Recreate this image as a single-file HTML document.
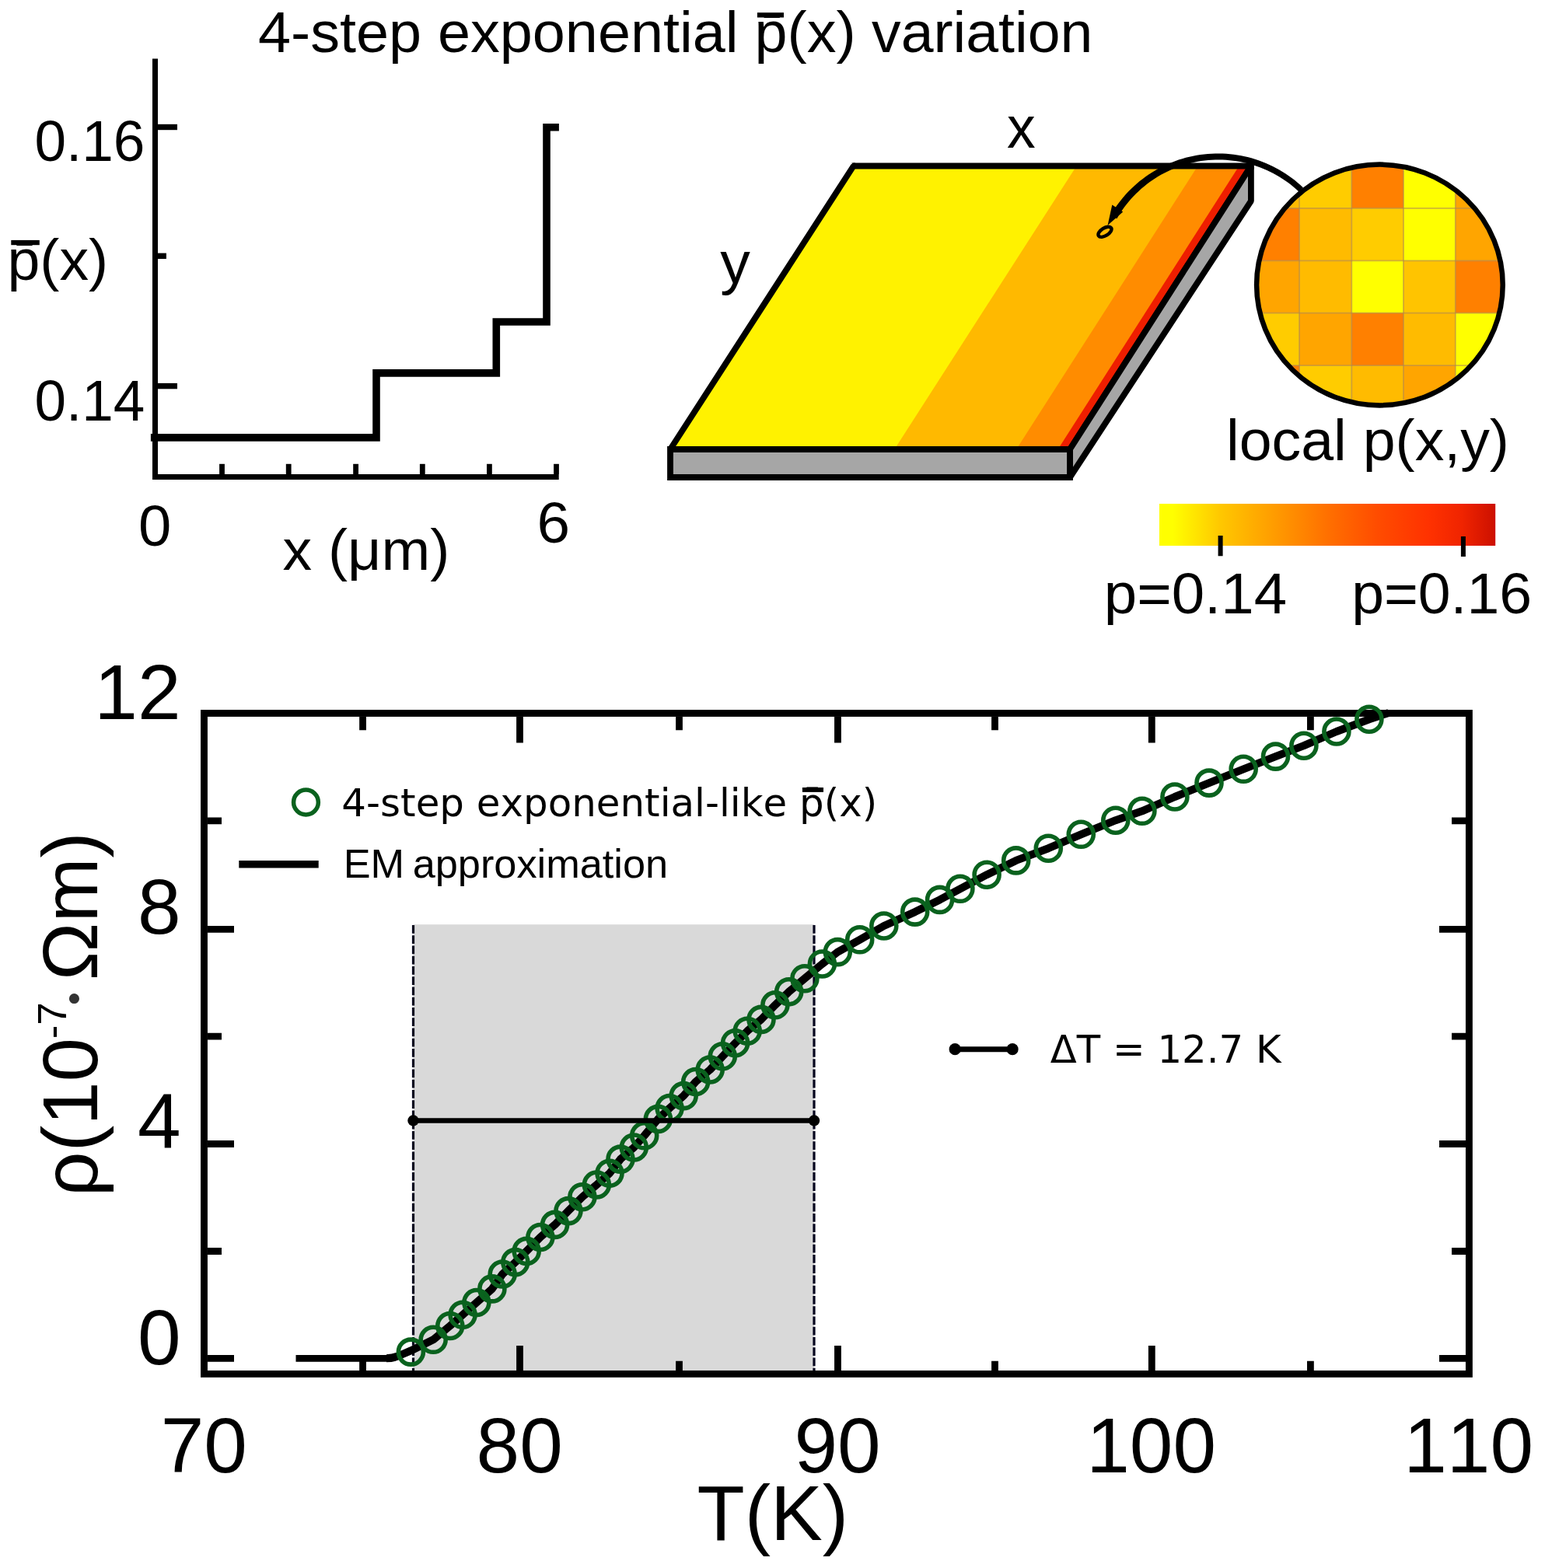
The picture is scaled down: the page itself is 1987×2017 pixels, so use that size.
<!DOCTYPE html><html><head><meta charset="utf-8"><title>4-step exponential p(x) variation</title><style>html,body{margin:0;padding:0;background:#fff;overflow:hidden}svg{display:block}text{font-kerning:none;font-variant-ligatures:none}</style></head><body>
<svg xmlns="http://www.w3.org/2000/svg" width="1987" height="2017" viewBox="0 0 1987 2017">
<rect x="0" y="0" width="1987" height="2017" fill="#fff"/>
<text x="331.97" y="66.80" font-family="'Liberation Sans', Arial, sans-serif" font-size="75" textLength="768.72" lengthAdjust="spacingAndGlyphs" fill="#000" >4-step exponential p̄(x)</text>
<text x="1121.04" y="66.80" font-family="'Liberation Sans', Arial, sans-serif" font-size="75" textLength="284.24" lengthAdjust="spacingAndGlyphs" fill="#000" >variation</text>
<rect x="973.9" y="16.2" width="34.1" height="6.3" fill="#000"/>
<g fill="none" stroke="#000" stroke-linecap="butt" stroke-linejoin="miter">
<path d="M199.5 75.6 V617" stroke-width="7"/>
<path d="M196 613.5 H718.7" stroke-width="7"/>
<path d="M203 163.5 H228" stroke-width="7.4"/>
<path d="M203 496.6 H228" stroke-width="7.4"/>
<path d="M203 329.3 H213.9" stroke-width="7.4"/>
<path d="M285.5 596.8 V610" stroke-width="6.8"/>
<path d="M371.2 596.8 V610" stroke-width="6.8"/>
<path d="M457.6 596.8 V610" stroke-width="6.8"/>
<path d="M543.3 596.8 V610" stroke-width="6.8"/>
<path d="M629.4 596.8 V610" stroke-width="6.8"/>
<path d="M715.5 596.8 V610" stroke-width="6.8"/>
<path d="M193.9 562.9 H484 V479.9 H638.3 V414 H703 V163.8 H718.9" stroke-width="9.6"/>
</g>
<text x="44.45" y="206.90" font-family="'Liberation Sans', Arial, sans-serif" font-size="75" textLength="141.95" lengthAdjust="spacingAndGlyphs" fill="#000" >0.16</text>
<text x="44.45" y="541.30" font-family="'Liberation Sans', Arial, sans-serif" font-size="75" textLength="141.88" lengthAdjust="spacingAndGlyphs" fill="#000" >0.14</text>
<text x="9.44" y="359.70" font-family="'Liberation Sans', Arial, sans-serif" font-size="74.4" textLength="129.73" lengthAdjust="spacingAndGlyphs" fill="#000" >p̄(x)</text>
<rect x="14.3" y="308.9" width="36.5" height="6.3" fill="#000"/>
<text x="178.03" y="701.80" font-family="'Liberation Sans', Arial, sans-serif" font-size="75" textLength="42.35" lengthAdjust="spacingAndGlyphs" fill="#000" >0</text>
<text x="690.62" y="697.60" font-family="'Liberation Sans', Arial, sans-serif" font-size="75" textLength="42.55" lengthAdjust="spacingAndGlyphs" fill="#000" >6</text>
<text x="363.45" y="733.00" font-family="'Liberation Sans', Arial, sans-serif" font-size="75" textLength="214.92" lengthAdjust="spacingAndGlyphs" fill="#000" >x (μm)</text>
<polygon points="1097.70,213.5 1608.90,213.5 1376.00,578.0 862.00,578" fill="#FFF200"/>
<polygon points="1384.48,213.5 1608.90,213.5 1376.00,578.0 1150.35,578.0" fill="#FFB900"/>
<polygon points="1540.40,213.5 1608.90,213.5 1376.00,578.0 1307.12,578.0" fill="#FF8C00"/>
<polygon points="1593.56,213.5 1608.90,213.5 1376.00,578.0 1360.58,578.0" fill="#EE1E00"/>
<g stroke="#000" stroke-width="7.8">
<polygon points="1097.7,213.5 1608.9,213.5 1376,578 862,578" fill="none" stroke-linejoin="bevel"/>
<polygon points="1376,578 1608.9,213.5 1608.9,258.6 1376,614" fill="#A6A6A6" stroke-linejoin="bevel"/>
<polygon points="862,578 1376,578 1376,614 862,614" fill="#A6A6A6" stroke-linejoin="miter"/>
</g>
<rect x="1605" y="209.6" width="7.8" height="8" fill="#000"/>
<path d="M1097.7 213.5 L1095.3 209.6 L1100 209.6 Z" fill="#000"/>
<path d="M1675.93 241.27 L1672.42 238.02 L1668.81 234.89 L1665.11 231.86 L1661.32 228.95 L1657.45 226.15 L1653.49 223.46 L1649.45 220.90 L1645.34 218.46 L1641.15 216.15 L1636.90 213.96 L1632.58 211.91 L1628.20 209.98 L1623.77 208.19 L1619.28 206.52 L1614.75 205.00 L1610.17 203.61 L1605.55 202.36 L1600.89 201.25 L1596.21 200.29 L1591.50 199.46 L1586.76 198.77 L1582.00 198.23 L1577.23 197.83 L1572.46 197.58 L1567.67 197.47 L1562.88 197.49 L1558.10 197.66 L1553.32 197.97 L1548.56 198.43 L1543.80 199.02 L1539.07 199.77 L1534.37 200.65 L1529.69 201.67 L1525.04 202.84 L1520.43 204.14 L1515.86 205.59 L1511.34 207.17 L1506.86 208.88 L1502.44 210.74 L1498.07 212.72 L1493.77 214.83 L1489.53 217.07 L1485.36 219.44 L1481.27 221.94 L1477.25 224.55 L1473.31 227.29 L1469.45 230.14 L1465.68 233.11 L1462.00 236.19 L1458.42 239.39 L1454.93 242.68 L1451.54 246.09 L1448.26 249.59 L1445.08 253.19 L1442.02 256.88 L1439.06 260.67 L1436.22 264.54 L1433.50 268.50 L1430.90 272.54 L1428.42 276.65 L1436.39 281.25 L1438.70 277.36 L1441.12 273.53 L1443.66 269.78 L1446.31 266.11 L1449.07 262.52 L1451.94 259.01 L1454.91 255.59 L1457.98 252.26 L1461.16 249.03 L1464.43 245.89 L1467.79 242.85 L1471.24 239.91 L1474.79 237.08 L1478.41 234.36 L1482.12 231.74 L1485.90 229.24 L1489.76 226.85 L1493.68 224.58 L1497.68 222.43 L1501.74 220.40 L1505.85 218.49 L1510.03 216.71 L1514.25 215.05 L1518.53 213.52 L1522.85 212.12 L1527.21 210.85 L1531.61 209.72 L1536.03 208.71 L1540.49 207.84 L1544.98 207.10 L1549.48 206.50 L1554.00 206.04 L1558.53 205.71 L1563.07 205.52 L1567.62 205.46 L1572.16 205.55 L1576.70 205.78 L1581.24 206.14 L1585.75 206.64 L1590.26 207.28 L1594.74 208.05 L1599.19 208.95 L1603.62 209.99 L1608.02 211.17 L1612.37 212.47 L1616.69 213.91 L1620.96 215.47 L1625.18 217.16 L1629.35 218.98 L1633.46 220.92 L1637.52 222.99 L1641.51 225.18 L1645.43 227.48 L1649.28 229.91 L1653.06 232.45 L1656.75 235.10 L1660.37 237.86 L1663.90 240.73 L1667.35 243.70 L1670.70 246.78 Z" fill="#000"/>
<polygon points="1430.3,263.5 1444.2,272.6 1424.6,289.8" fill="#000"/>
<ellipse cx="1421" cy="298.3" rx="9.6" ry="4.9" transform="rotate(-32 1421 298.3)" fill="none" stroke="#000" stroke-width="4.4"/>
<defs><clipPath id="mag"><ellipse cx="1774.4" cy="366.5" rx="158.3" ry="154.9"/></clipPath><linearGradient id="cb" x1="0" y1="0" x2="1" y2="0"><stop offset="0" stop-color="#FFFF00"/><stop offset="0.04" stop-color="#FFFF00"/><stop offset="0.18" stop-color="#FFC800"/><stop offset="0.33" stop-color="#FF9F00"/><stop offset="0.5" stop-color="#FF7000"/><stop offset="0.65" stop-color="#FF4C00"/><stop offset="0.8" stop-color="#FF3200"/><stop offset="0.9" stop-color="#F02400"/><stop offset="1" stop-color="#CC1000"/></linearGradient></defs>
<g clip-path="url(#mag)">
<rect x="1604.2" y="200.1" width="67.4" height="68.2" fill="#FFBB00"/>
<rect x="1671.1" y="200.1" width="67.7" height="68.2" fill="#FFCC00"/>
<rect x="1738.3" y="200.1" width="67.2" height="68.2" fill="#FF8000"/>
<rect x="1805.0" y="200.1" width="67.3" height="68.2" fill="#FFFF00"/>
<rect x="1871.8" y="200.1" width="67.5" height="68.2" fill="#FFA500"/>
<rect x="1604.2" y="267.8" width="67.4" height="68.0" fill="#FF8000"/>
<rect x="1671.1" y="267.8" width="67.7" height="68.0" fill="#FFBB00"/>
<rect x="1738.3" y="267.8" width="67.2" height="68.0" fill="#FFCC00"/>
<rect x="1805.0" y="267.8" width="67.3" height="68.0" fill="#FFFF00"/>
<rect x="1871.8" y="267.8" width="67.5" height="68.0" fill="#FFA500"/>
<rect x="1604.2" y="335.3" width="67.4" height="67.8" fill="#FFA500"/>
<rect x="1671.1" y="335.3" width="67.7" height="67.8" fill="#FFBB00"/>
<rect x="1738.3" y="335.3" width="67.2" height="67.8" fill="#FFFF00"/>
<rect x="1805.0" y="335.3" width="67.3" height="67.8" fill="#FFC400"/>
<rect x="1871.8" y="335.3" width="67.5" height="67.8" fill="#FF8000"/>
<rect x="1604.2" y="402.6" width="67.4" height="68.0" fill="#FFCC00"/>
<rect x="1671.1" y="402.6" width="67.7" height="68.0" fill="#FFA500"/>
<rect x="1738.3" y="402.6" width="67.2" height="68.0" fill="#FF8000"/>
<rect x="1805.0" y="402.6" width="67.3" height="68.0" fill="#FFBB00"/>
<rect x="1871.8" y="402.6" width="67.5" height="68.0" fill="#FFFF00"/>
<rect x="1604.2" y="470.1" width="67.4" height="68.0" fill="#FF8000"/>
<rect x="1671.1" y="470.1" width="67.7" height="68.0" fill="#FFCC00"/>
<rect x="1738.3" y="470.1" width="67.2" height="68.0" fill="#FFBB00"/>
<rect x="1805.0" y="470.1" width="67.3" height="68.0" fill="#FFA500"/>
<rect x="1871.8" y="470.1" width="67.5" height="68.0" fill="#FFFF00"/>
<path d="M1671.1 195 V540" stroke="#B08850" stroke-opacity="0.6" stroke-width="1.8"/>
<path d="M1738.3 195 V540" stroke="#B08850" stroke-opacity="0.6" stroke-width="1.8"/>
<path d="M1805.0 195 V540" stroke="#B08850" stroke-opacity="0.6" stroke-width="1.8"/>
<path d="M1871.8 195 V540" stroke="#B08850" stroke-opacity="0.6" stroke-width="1.8"/>
<path d="M1600 267.8 H1945" stroke="#B08850" stroke-opacity="0.6" stroke-width="1.8"/>
<path d="M1600 335.3 H1945" stroke="#B08850" stroke-opacity="0.6" stroke-width="1.8"/>
<path d="M1600 402.6 H1945" stroke="#B08850" stroke-opacity="0.6" stroke-width="1.8"/>
<path d="M1600 470.1 H1945" stroke="#B08850" stroke-opacity="0.6" stroke-width="1.8"/>
</g>
<ellipse cx="1774.4" cy="366.5" rx="158.3" ry="154.9" fill="none" stroke="#000" stroke-width="6.5"/>
<text x="1295.08" y="190.10" font-family="'Liberation Sans', Arial, sans-serif" font-size="76.5" textLength="36.71" lengthAdjust="spacingAndGlyphs" fill="#000" >x</text>
<text x="926.21" y="363.85" font-family="'Liberation Sans', Arial, sans-serif" font-size="76" textLength="38.54" lengthAdjust="spacingAndGlyphs" fill="#000" >y</text>
<text x="1576.93" y="591.90" font-family="'Liberation Sans', Arial, sans-serif" font-size="74" textLength="364.04" lengthAdjust="spacingAndGlyphs" fill="#000" >local p(x,y)</text>
<rect x="1491" y="648" width="432.2" height="54" fill="url(#cb)"/>
<path d="M1569.6 689 V715.3 M1881.9 690 V716" stroke="#000" stroke-width="6"/>
<text x="1419.79" y="788.80" font-family="'Liberation Sans', Arial, sans-serif" font-size="75" textLength="235.25" lengthAdjust="spacingAndGlyphs" fill="#000" >p=0.14</text>
<text x="1738.16" y="788.80" font-family="'Liberation Sans', Arial, sans-serif" font-size="75" textLength="231.84" lengthAdjust="spacingAndGlyphs" fill="#000" >p=0.16</text>
<rect x="531.5" y="1189.2" width="515.5" height="575" fill="#D9D9D9"/>
<path d="M531.5 1189.9 V1764 M1047 1189.9 V1764" stroke="#06061E" stroke-width="3.2" stroke-dasharray="10.9 2.35"/>
<g fill="none" stroke="#000" stroke-width="8.8">
<rect x="262.5" y="917.5" width="1626.9" height="849.9" stroke-width="8.9"/>
<path d="M267 1747.4 H301 M1885 1747.4 H1851"/>
<path d="M267 1471.5 H301 M1885 1471.5 H1851"/>
<path d="M267 1195.4 H301 M1885 1195.4 H1851"/>
<path d="M267 1609.5 H285 M1885 1609.5 H1867"/>
<path d="M267 1333.2 H285 M1885 1333.2 H1867"/>
<path d="M267 1055.8 H285 M1885 1055.8 H1867"/>
<path d="M668.50 1763 V1731 M668.50 922 V955.6"/>
<path d="M1077.45 1763 V1731 M1077.45 922 V955.6"/>
<path d="M1481.30 1763 V1731 M1481.30 922 V955.6"/>
<path d="M466.55 1763 V1750.7 M466.55 922 V939.3"/>
<path d="M873.50 1763 V1750.7 M873.50 922 V939.3"/>
<path d="M1279.50 1763 V1750.7 M1279.50 922 V939.3"/>
<path d="M1685.40 1763 V1750.7 M1685.40 922 V939.3"/>
</g>
<path d="M380.5 1747.4 H500" fill="none" stroke="#000" stroke-width="8.7"/>
<path d="M497 1747.3 C504 1747.3 507 1746.5 513 1744 L528.4 1737.4 L557.2 1723.3 L578.8 1705.5 L595.1 1691.3 L612.9 1675.5 L632.9 1657.9 L646.2 1639 L662.8 1623.6 L677.2 1609.4 L694.9 1591.5 L713.6 1575.4 L731 1557.6 L748.9 1539.7 L767.4 1524 L784 1509.2 L798 1491.1 L815.3 1476 L828.7 1460.8 L846.4 1439.4 L861.1 1425.5 L879.2 1409.6 L894.7 1391.5 L913.2 1376 L929.3 1358.8 L945.6 1341.7 L961.2 1326.2 L979 1311.4 L996.9 1292.8 L1014.7 1275.7 L1034.9 1258.7 L1057.4 1240 L1077.3 1224.6 L1105.7 1208.8 L1136.8 1191 L1176.7 1173.1 L1208.6 1157.4 L1234.9 1143.3 L1269.1 1125.2 L1306.7 1106.9 L1348.3 1091.2 L1390.3 1073.3 L1434.8 1055.2 L1468.9 1043.3 L1510.9 1025 L1555 1007.1 L1599.2 989.3 L1640.5 973.1 L1676.9 959.2 L1718.9 941 L1760.9 925.2 L1786 917" fill="none" stroke="#000" stroke-width="10" stroke-linejoin="round"/>
<g fill="none" stroke="#0A621E" stroke-width="5.6">
<circle cx="528.4" cy="1739.1" r="16"/>
<circle cx="557.2" cy="1723.3" r="16"/>
<circle cx="578.8" cy="1705.5" r="16"/>
<circle cx="595.1" cy="1691.3" r="16"/>
<circle cx="612.9" cy="1675.5" r="16"/>
<circle cx="632.9" cy="1657.9" r="16"/>
<circle cx="646.2" cy="1639" r="16"/>
<circle cx="662.8" cy="1623.6" r="16"/>
<circle cx="677.2" cy="1609.4" r="16"/>
<circle cx="694.9" cy="1591.5" r="16"/>
<circle cx="713.6" cy="1575.4" r="16"/>
<circle cx="731" cy="1557.6" r="16"/>
<circle cx="748.9" cy="1539.7" r="16"/>
<circle cx="767.4" cy="1524" r="16"/>
<circle cx="784" cy="1509.2" r="16"/>
<circle cx="798" cy="1491.1" r="16"/>
<circle cx="815.3" cy="1476" r="16"/>
<circle cx="828.7" cy="1460.8" r="16"/>
<circle cx="846.4" cy="1439.4" r="16"/>
<circle cx="861.1" cy="1425.5" r="16"/>
<circle cx="879.2" cy="1409.6" r="16"/>
<circle cx="894.7" cy="1391.5" r="16"/>
<circle cx="913.2" cy="1376" r="16"/>
<circle cx="929.3" cy="1358.8" r="16"/>
<circle cx="945.6" cy="1341.7" r="16"/>
<circle cx="961.2" cy="1326.2" r="16"/>
<circle cx="979" cy="1311.4" r="16"/>
<circle cx="996.9" cy="1292.8" r="16"/>
<circle cx="1014.7" cy="1275.7" r="16"/>
<circle cx="1034.9" cy="1258.7" r="16"/>
<circle cx="1057.4" cy="1240" r="16"/>
<circle cx="1077.3" cy="1224.6" r="16"/>
<circle cx="1105.7" cy="1208.8" r="16"/>
<circle cx="1136.8" cy="1191" r="16"/>
<circle cx="1176.7" cy="1173.1" r="16"/>
<circle cx="1208.6" cy="1157.4" r="16"/>
<circle cx="1234.9" cy="1143.3" r="16"/>
<circle cx="1269.1" cy="1125.2" r="16"/>
<circle cx="1306.7" cy="1106.9" r="16"/>
<circle cx="1348.3" cy="1091.2" r="16"/>
<circle cx="1390.3" cy="1073.3" r="16"/>
<circle cx="1434.8" cy="1055.2" r="16"/>
<circle cx="1468.9" cy="1043.3" r="16"/>
<circle cx="1510.9" cy="1025" r="16"/>
<circle cx="1555" cy="1007.1" r="16"/>
<circle cx="1599.2" cy="989.3" r="16"/>
<circle cx="1640.5" cy="973.1" r="16"/>
<circle cx="1676.9" cy="959.2" r="16"/>
<circle cx="1718.9" cy="941" r="16"/>
<circle cx="1760.9" cy="925.2" r="16"/>
</g>
<path d="M531.5 1441.5 H1047" stroke="#000" stroke-width="6.5"/>
<circle cx="531.5" cy="1441.5" r="7.2"/><circle cx="1047" cy="1441.5" r="7.2"/>
<circle cx="393.45" cy="1032" r="15.9" fill="none" stroke="#0A621E" stroke-width="5.5"/>
<text x="439.36" y="1050.30" font-family="'DejaVu Sans', 'Liberation Sans', sans-serif" font-size="50" textLength="688.82" lengthAdjust="spacingAndGlyphs" fill="#000" >4-step exponential-like p̄(x)</text>
<rect x="1031.9" y="1013.0" width="27.1" height="5.9" fill="#000"/>
<path d="M307.3 1111.7 H409.7" stroke="#000" stroke-width="9.5"/>
<text x="441.71" y="1128.80" font-family="'Liberation Sans', Arial, sans-serif" font-size="52" textLength="78.48" lengthAdjust="spacingAndGlyphs" fill="#000" >EM</text>
<text x="530.68" y="1128.80" font-family="'Liberation Sans', Arial, sans-serif" font-size="52" textLength="328.42" lengthAdjust="spacingAndGlyphs" fill="#000" >approximation</text>
<path d="M1228.2 1349.7 H1302.1" stroke="#000" stroke-width="7"/>
<circle cx="1228.2" cy="1349.7" r="7.6"/><circle cx="1302.1" cy="1349.7" r="7.6"/>
<text x="1350.81" y="1366.80" font-family="'DejaVu Sans', 'Liberation Sans', sans-serif" font-size="50" textLength="296.84" lengthAdjust="spacingAndGlyphs" fill="#000" >ΔT = 12.7 K</text>
<text x="232.5" y="924.9" font-family="'Liberation Sans', Arial, sans-serif" font-size="100" text-anchor="end">12</text>
<text x="232.5" y="1201" font-family="'Liberation Sans', Arial, sans-serif" font-size="100" text-anchor="end">8</text>
<text x="232.5" y="1477" font-family="'Liberation Sans', Arial, sans-serif" font-size="100" text-anchor="end">4</text>
<text x="232.5" y="1755" font-family="'Liberation Sans', Arial, sans-serif" font-size="100" text-anchor="end">0</text>
<text x="262.3" y="1894" font-family="'Liberation Sans', Arial, sans-serif" font-size="100" text-anchor="middle">70</text>
<text x="668.2" y="1894" font-family="'Liberation Sans', Arial, sans-serif" font-size="100" text-anchor="middle">80</text>
<text x="1077.0" y="1894" font-family="'Liberation Sans', Arial, sans-serif" font-size="100" text-anchor="middle">90</text>
<text x="1480.6" y="1894" font-family="'Liberation Sans', Arial, sans-serif" font-size="100" text-anchor="middle">100</text>
<text x="1888.6" y="1894" font-family="'Liberation Sans', Arial, sans-serif" font-size="100" text-anchor="middle">110</text>
<text x="896.45" y="1980.80" font-family="'Liberation Sans', Arial, sans-serif" font-size="100" textLength="194.76" lengthAdjust="spacingAndGlyphs" fill="#000" >T(K)</text>
<text transform="translate(125.20,1539.34) rotate(-90)" x="0" y="0" font-family="'Liberation Sans', Arial, sans-serif" font-size="100" textLength="204.41" lengthAdjust="spacingAndGlyphs" fill="#000">ρ(10</text>
<text transform="translate(84.90,1336.25) rotate(-90)" x="0" y="0" font-family="'Liberation Sans', Arial, sans-serif" font-size="52" textLength="47.01" lengthAdjust="spacingAndGlyphs" fill="#000">-7</text>
<text transform="translate(111.30,1293.00) rotate(-90)" x="0" y="0" font-family="'Liberation Sans', Arial, sans-serif" font-size="48" textLength="16.79" lengthAdjust="spacingAndGlyphs" fill="#333">•</text>
<text transform="translate(125.20,1261.24) rotate(-90)" x="0" y="0" font-family="'Liberation Sans', Arial, sans-serif" font-size="100" textLength="191.03" lengthAdjust="spacingAndGlyphs" fill="#000">Ωm)</text>
</svg></body></html>
